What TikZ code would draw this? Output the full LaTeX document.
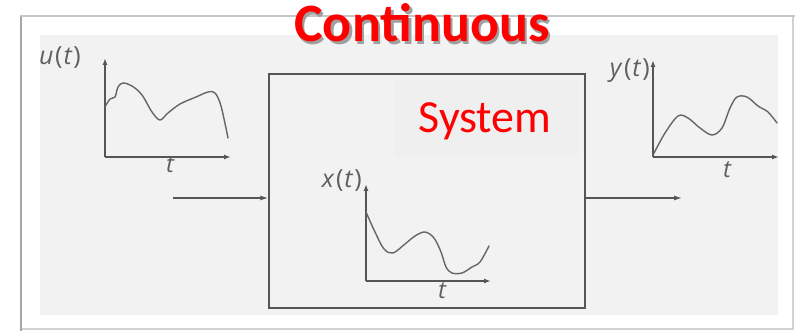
\documentclass[tikz,border=0pt]{standalone}
\usepackage{fontspec}
\setmainfont{Carlito}
\newfontfamily\lblfont{Open Sans}
\usetikzlibrary{arrows.meta}
\definecolor{panel}{HTML}{F2F2F2}
\definecolor{sysbg}{HTML}{EFEFEF}
\definecolor{axisgray}{HTML}{555555}
\definecolor{lblgray}{HTML}{606060}
\definecolor{titlered}{HTML}{FF0000}
\definecolor{shadowgray}{HTML}{A0A0A0}
\newcommand{\fnlbl}[1]{\textit{#1}\kern1.5pt(\kern1pt\textit{t}\kern1pt)}
\tikzset{
  axisline/.style={draw=axisgray, line width=1.4pt, -{Latex[length=7pt,width=5pt]}},
  curve/.style={draw=axisgray!90, line width=1.4pt, line join=round, line cap=round},
  lbl/.style={font=\lblfont\fontsize{25}{25}\selectfont, text=lblgray, inner sep=0pt},
  tlbl/.style={font=\lblfont\itshape\fontsize{24}{24}\selectfont, text=lblgray, inner sep=0pt},
  flow/.style={draw=axisgray, line width=1.3pt, -{Latex[length=8pt,width=5pt]}},
}
\begin{document}
\begin{tikzpicture}[x=1pt,y=-1pt]
\useasboundingbox (0,0) rectangle (795,331);
\fill[white] (0,0) rectangle (795,331);
% outer frame
\draw[gray!35, line width=1.2pt] (21,16) rectangle (793,329);
\draw[gray!70, line width=1.6pt] (21,16) -- (21,331);
\draw[gray!45, line width=1.2pt] (21,16) -- (795,16);
% inner panel
\fill[panel] (40,35) rectangle (778,315);
% title with shadow
\node[font=\bfseries\fontsize{54}{54}\selectfont, text=titlered, anchor=base, inner sep=0pt] (title) at (422,42)
  {\makebox[0pt][l]{\hspace{2.5pt}\raisebox{-2.5pt}{\textcolor{shadowgray}{Continuous}}}Continuous};
% system box
\node[draw=axisgray, line width=1.4pt, minimum width=316pt, minimum height=234pt, inner sep=0pt] (sys) at (427,191) {};
\fill[sysbg] (395,80) rectangle (578,157);
\node[font=\fontsize{46}{46}\selectfont, text=titlered, anchor=base] (systxt) at (485,133) {System};
% flow arrows
\coordinate (in) at (173,198);
\coordinate (out) at (682,198);
\draw[flow] (in) -- (in -| sys.west);
\draw[flow] (out -| sys.east) -- (out);
% u(t) graph
\coordinate (uo) at (105,157);
\draw[axisline] (uo) -- (105,58);
\draw[axisline] (uo) -- (231,157);
\node[lbl, anchor=base west] (ul) at (39,65) {\fnlbl{u}};
\node[tlbl, anchor=base] (ut) at (170,173) {t};
\draw[curve] plot[smooth, tension=0.55] coordinates {(105,107) (110,99) (115,97) (118,87) (123,83) (132,86) (142,95) (152,112) (160,120) (168,113) (180,104) (196,97) (208,92) (215,93) (221,106) (228,138)};
% y(t) graph
\coordinate (yo) at (653,157);
\draw[axisline] (yo) -- (653,60);
\draw[axisline] (yo) -- (779,157);
\node[lbl, anchor=base east] (yl) at (650,77) {\fnlbl{y}};
\node[tlbl, anchor=base] (yt) at (727,178) {t};
\draw[curve] plot[smooth, tension=0.55] coordinates {(653,155) (665,133) (678,116) (688,118) (700,128) (712,135) (722,128) (730,108) (737,97) (747,97) (758,106) (768,112) (777,123)};
% x(t) graph
\coordinate (xo) at (366,281);
\draw[axisline] (xo) -- (366,184);
\draw[axisline] (xo) -- (491,281);
\node[lbl, anchor=base east] (xl) at (362,188) {\fnlbl{x}};
\node[tlbl, anchor=base] (xt) at (442,298) {t};
\draw[curve] plot[smooth, tension=0.55] coordinates {(366,212) (375,232) (384,249) (393,253) (405,244) (415,236) (425,232) (434,238) (441,252) (446,267) (452,273) (462,273) (472,267) (480,262) (489,246)};
\end{tikzpicture}
\end{document}
